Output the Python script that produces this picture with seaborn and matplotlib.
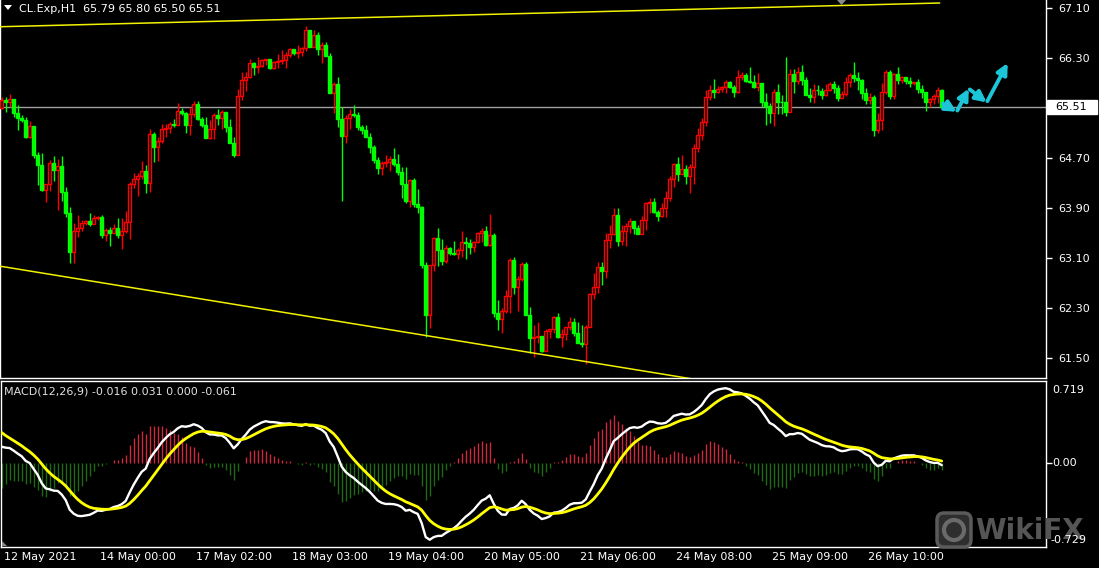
import numpy as np
import seaborn as sns
import matplotlib.pyplot as plt
from matplotlib.patches import Rectangle, FancyBboxPatch, Polygon, Circle

sns.set_style("dark")
plt.rcParams['font.family'] = ['DejaVu Sans']

# ---- data (CL.Exp H1) ----
first_open = 65.50
closes = [65.63, 65.60, 65.65, 65.42, 65.34, 65.31, 65.04, 65.21, 64.75, 64.59,
          64.19, 64.29, 64.62, 64.51, 64.57, 64.16, 63.82, 63.20, 63.53, 63.58,
          63.66, 63.69, 63.65, 63.74, 63.76, 63.47, 63.55, 63.50, 63.58, 63.47,
          63.53, 63.68, 64.29, 64.37, 64.41, 64.49, 64.30, 65.09, 64.88, 64.97,
          65.17, 65.18, 65.25, 65.23, 65.45, 65.42, 65.23, 65.41, 65.57, 65.33,
          65.23, 65.02, 65.17, 65.39, 65.34, 65.44, 65.20, 64.94, 64.75, 65.69,
          65.95, 66.00, 66.22, 66.16, 66.17, 66.27, 66.28, 66.14, 66.24, 66.25,
          66.27, 66.35, 66.45, 66.38, 66.40, 66.46, 66.75, 66.48, 66.67, 66.45,
          66.51, 66.33, 65.74, 65.89, 65.33, 65.05, 65.34, 65.41, 65.39, 65.20,
          65.15, 65.04, 64.88, 64.67, 64.54, 64.62, 64.64, 64.69, 64.61, 64.48,
          64.29, 64.01, 64.35, 63.97, 63.92, 62.99, 62.19, 62.99, 63.42, 63.23,
          63.05, 63.26, 63.18, 63.16, 63.23, 63.36, 63.34, 63.28, 63.36, 63.50,
          63.53, 63.31, 63.47, 62.22, 62.13, 62.25, 62.49, 63.07, 62.64, 62.77,
          63.01, 62.19, 61.82, 61.84, 61.85, 61.61, 61.93, 61.97, 62.16, 61.84,
          61.89, 62.00, 62.08, 61.90, 61.74, 61.73, 62.00, 62.53, 62.64, 62.96,
          62.89, 63.39, 63.49, 63.79, 63.37, 63.53, 63.61, 63.69, 63.58, 63.49,
          63.71, 63.98, 64.00, 63.84, 63.77, 63.90, 64.06, 64.37, 64.61, 64.45,
          64.53, 64.41, 64.56, 64.86, 65.07, 65.28, 65.68, 65.79, 65.76, 65.81,
          65.84, 65.92, 65.84, 65.76, 66.00, 66.03, 65.93, 65.92, 65.84, 65.90,
          65.60, 65.53, 65.42, 65.76, 65.60, 65.59, 65.44, 66.05, 65.93, 66.08,
          65.95, 65.71, 65.68, 65.79, 65.78, 65.71, 65.79, 65.89, 65.82, 65.66,
          65.73, 65.92, 66.03, 65.98, 65.95, 65.74, 65.63, 65.68, 65.15, 65.31,
          65.76, 66.08, 65.69, 66.05, 65.95, 66.00, 65.93, 65.90, 65.92, 65.81,
          65.76, 65.60, 65.65, 65.69, 65.79, 65.51]
highs = [65.68, 65.68, 65.73, 65.65, 65.55, 65.39, 65.36, 65.29, 65.20, 64.80,
         64.78, 64.29, 64.67, 64.73, 64.69, 64.73, 64.24, 63.92, 63.66, 63.79,
         63.71, 63.71, 63.82, 63.79, 63.77, 63.79, 63.58, 63.60, 63.65, 63.74,
         63.74, 63.85, 64.32, 64.46, 64.46, 64.65, 64.59, 65.17, 65.12, 65.04,
         65.25, 65.25, 65.28, 65.33, 65.58, 65.50, 65.44, 65.52, 65.61, 65.61,
         65.36, 65.36, 65.31, 65.42, 65.49, 65.47, 65.42, 65.33, 65.04, 65.81,
         66.08, 66.08, 66.29, 66.24, 66.32, 66.29, 66.27, 66.29, 66.25, 66.37,
         66.43, 66.40, 66.46, 66.43, 66.51, 66.48, 66.81, 66.75, 66.75, 66.72,
         66.56, 66.56, 66.38, 65.92, 66.00, 65.52, 65.39, 65.49, 65.55, 65.44,
         65.23, 65.23, 65.10, 64.91, 64.72, 64.65, 64.75, 64.73, 64.86, 64.77,
         64.56, 64.56, 64.37, 64.38, 64.21, 63.93, 63.04, 62.99, 63.44, 63.58,
         63.41, 63.31, 63.28, 63.37, 63.26, 63.53, 63.44, 63.41, 63.37, 63.52,
         63.58, 63.61, 63.81, 63.50, 62.43, 62.30, 62.59, 63.10, 63.12, 62.81,
         63.04, 63.04, 62.32, 62.03, 62.08, 61.85, 61.97, 61.97, 62.17, 62.22,
         61.97, 62.00, 62.16, 62.14, 62.08, 62.03, 62.03, 62.54, 62.86, 63.04,
         63.04, 63.50, 63.63, 63.90, 63.90, 63.63, 63.66, 63.74, 63.66, 63.63,
         63.77, 64.00, 64.06, 64.06, 63.87, 63.98, 64.17, 64.41, 64.62, 64.72,
         64.75, 64.59, 64.61, 64.93, 65.18, 65.34, 65.79, 65.87, 65.97, 65.85,
         65.85, 65.95, 65.93, 65.87, 66.11, 66.08, 66.06, 66.16, 66.03, 66.06,
         65.90, 65.74, 65.58, 65.81, 65.89, 65.71, 66.32, 66.13, 66.13, 66.16,
         66.19, 66.00, 65.82, 65.89, 65.87, 65.82, 65.89, 65.92, 65.93, 65.87,
         65.77, 66.00, 66.06, 66.24, 66.08, 65.97, 65.82, 65.74, 65.71, 65.42,
         65.90, 66.11, 66.11, 66.06, 66.16, 66.01, 66.00, 66.00, 65.92, 65.97,
         65.87, 65.76, 65.66, 65.73, 65.84, 65.80]
lows = [65.49, 65.44, 65.52, 65.36, 65.15, 65.28, 65.02, 65.02, 64.70, 64.27,
        64.17, 64.00, 64.17, 64.33, 63.87, 64.01, 63.76, 63.02, 63.02, 63.44,
        63.53, 63.63, 63.61, 63.65, 63.71, 63.42, 63.37, 63.29, 63.50, 63.42,
        63.25, 63.50, 63.41, 64.22, 64.09, 64.37, 64.14, 64.16, 64.64, 64.65,
        64.94, 65.04, 65.10, 65.20, 65.29, 65.39, 65.10, 65.07, 65.36, 65.31,
        65.20, 65.02, 65.01, 65.01, 65.23, 65.17, 65.12, 64.94, 64.72, 64.75,
        65.63, 65.77, 65.98, 66.03, 66.06, 66.16, 66.19, 66.13, 66.13, 66.14,
        66.21, 66.14, 66.32, 66.35, 66.30, 66.33, 66.41, 66.48, 66.48, 66.35,
        66.22, 66.33, 65.74, 65.42, 65.20, 64.01, 64.94, 65.17, 65.36, 65.15,
        65.09, 65.04, 64.78, 64.62, 64.45, 64.43, 64.56, 64.49, 64.57, 64.43,
        64.06, 63.98, 63.92, 63.92, 63.82, 62.94, 61.84, 61.98, 62.89, 62.97,
        62.99, 63.02, 63.15, 63.15, 63.09, 63.12, 63.09, 63.17, 63.20, 63.34,
        63.36, 63.29, 63.29, 62.16, 61.95, 61.90, 62.22, 62.22, 62.53, 62.25,
        62.73, 62.19, 61.58, 61.52, 61.74, 61.60, 61.71, 61.82, 61.90, 61.82,
        61.68, 61.79, 61.95, 61.85, 61.74, 61.68, 61.41, 62.00, 62.45, 62.54,
        62.67, 62.78, 63.26, 63.47, 63.29, 63.31, 63.29, 63.50, 63.49, 63.49,
        63.49, 63.55, 63.82, 63.82, 63.69, 63.76, 63.76, 64.01, 64.24, 64.33,
        64.45, 64.29, 64.14, 64.29, 64.80, 64.99, 65.21, 65.63, 65.66, 65.74,
        65.76, 65.74, 65.82, 65.68, 65.74, 65.95, 65.92, 65.90, 65.82, 65.77,
        65.52, 65.23, 65.26, 65.21, 65.41, 65.41, 65.37, 65.44, 65.74, 65.89,
        65.87, 65.71, 65.60, 65.58, 65.71, 65.65, 65.69, 65.77, 65.74, 65.61,
        65.66, 65.69, 65.84, 65.92, 65.79, 65.65, 65.57, 65.57, 65.05, 65.10,
        65.15, 65.73, 65.65, 65.65, 65.89, 65.90, 65.89, 65.84, 65.87, 65.74,
        65.66, 65.45, 65.52, 65.57, 65.58, 65.50]

date_ticks = [0, 24, 48, 72, 96, 120, 144, 168, 192, 216]
date_labels = ['12 May 2021', '14 May 00:00', '17 May 02:00', '18 May 03:00',
               '19 May 04:00', '20 May 05:00', '21 May 06:00', '24 May 08:00',
               '25 May 09:00', '26 May 10:00']
price_ticks = [61.50, 62.30, 63.10, 63.90, 64.70, 66.30, 67.10]
last_price = 65.51

# trend lines and the cyan forecast path
upper_line_bars, upper_line_prices = [-0.5, 234.5], [66.80, 67.18]
lower_line_bars, lower_line_prices = [-0.5, 200], [62.97, 60.88]
forecast_bars = [235, 238.75, 241.75, 246.25, 251.5]
forecast_prices = [65.58, 65.44, 65.81, 65.59, 66.22]

# MACD(12,26,9) state carried in from before the window
ema_fast_start, ema_slow_start, signal_start = 65.55, 65.40, 0.30
hist_scale = 1.7

# ---- derived ----
closes = np.array(closes)
highs = np.array(highs)
lows = np.array(lows)
bars = np.arange(len(closes))
opens = np.r_[first_open, closes[:-1]]
highs = np.maximum(highs, np.maximum(opens, closes))
lows = np.minimum(lows, np.minimum(opens, closes))
bull = closes > opens

ef, es, sg = ema_fast_start, ema_slow_start, signal_start
macd, signal = [], []
for c in closes:
    ef += 2 / 13 * (c - ef)
    es += 2 / 27 * (c - es)
    m = ef - es
    sg += 2 / 10 * (m - sg)
    macd.append(m)
    signal.append(sg)
macd = np.array(macd)
signal = np.array(signal)
hist = hist_scale * (macd - signal)

# ---- figure ----
W, H = 1099, 568
fig = plt.figure(figsize=(W / 100, H / 100), dpi=100, facecolor='black')


def px_axes(x0, y0, x1, y1):
    return fig.add_axes([x0 / W, 1 - y1 / H, (x1 - x0) / W, (y1 - y0) / H])


def fx(x):
    return x / W


def fy(y):
    return 1 - y / H


def inch(x, y):
    # pixel (from top-left) -> inches for fig.dpi_scale_trans
    return x / 100, (H - y) / 100


FS = 8

ax = px_axes(0, 0, 1046, 378)
axm = px_axes(1, 381, 1046, 547)

for a in (ax, axm):
    a.set_facecolor('black')
    a.grid(False)
    for s in a.spines.values():
        s.set_color('white')
        s.set_linewidth(1)
ax.spines['top'].set_visible(False)

# candles
ax.vlines(bars, lows, highs, colors=np.where(bull, '#ff0000', '#00ff00'), lw=1, zorder=2)
ax.bar(bars[bull], closes[bull] - opens[bull], bottom=opens[bull], width=0.72,
       facecolor='black', edgecolor='#ff0000', lw=1, zorder=3)
ax.bar(bars[~bull], opens[~bull] - closes[~bull], bottom=closes[~bull], width=0.72,
       facecolor='#00ff00', edgecolor='#00ff00', lw=1, zorder=3)

ax.axhline(last_price, color='#a0a0a0', lw=1, zorder=1)
ax.plot(upper_line_bars, upper_line_prices, color='#f2f200', lw=1.1, zorder=4)
ax.plot(lower_line_bars, lower_line_prices, color='#f2f200', lw=1.1, zorder=4)

for b0, p0, b1, p1 in zip(forecast_bars[:-1], forecast_prices[:-1],
                          forecast_bars[1:], forecast_prices[1:]):
    ax.annotate('', xy=(b1, p1), xytext=(b0, p0), annotation_clip=False,
                arrowprops=dict(arrowstyle='-|>', color='#1cc6d8', lw=2.8,
                                mutation_scale=16, shrinkA=1, shrinkB=0), zorder=6)

ax.set_xlim(-1.7 / 4, (1046 - 1.7) / 4)
ax.set_ylim(67.228 - 0.016 * 378, 67.228)
ax.set_xticks([])
ax.yaxis.tick_right()
ax.set_yticks(price_ticks)
ax.set_yticklabels([f'{p:.2f}' for p in price_ticks])
ax.tick_params(axis='y', colors='white', labelcolor='white', length=4, width=1,
               direction='out', pad=5, labelsize=FS)

# current price box
ax.add_patch(Rectangle((1.001, last_price - 0.11), 50 / 1046, 0.22, facecolor='white',
                       edgecolor='white', transform=ax.get_yaxis_transform(),
                       clip_on=False, zorder=7))
ax.text(1055 / 1046, last_price, f'{last_price:.2f}', transform=ax.get_yaxis_transform(),
        color='black', fontsize=FS, va='center', ha='left', zorder=8)

# MACD window
axm.vlines(bars, 0, hist, colors=np.where(hist >= 0, '#d0283f', '#1d6a12'), lw=1, zorder=2)
sns.lineplot(x=bars, y=signal, ax=axm, color='#ffff00', lw=2, zorder=4)
sns.lineplot(x=bars, y=macd, ax=axm, color='white', lw=1.7, zorder=3)
axm.set_xlim((1 - 1.7) / 4, (1046 - 1.7) / 4)
axm.set_ylim(-0.729, 0.719)
axm.set_xlabel('')
axm.set_ylabel('')
axm.set_yticks([0.0])
axm.set_yticklabels([])
axm.yaxis.tick_right()
axm.tick_params(axis='y', colors='white', length=4, width=1, direction='out')
axm.set_xticks(date_ticks)
axm.set_xticklabels([])
axm.tick_params(axis='x', colors='white', length=4, width=1, direction='out')

for b, lab in zip(date_ticks, date_labels):
    axm.text(b + 0.6, -10 / 166, lab, transform=axm.get_xaxis_transform(),
             color='white', fontsize=FS, ha='left', va='center')

# watermark (under the scale labels)
fig.patches.append(FancyBboxPatch(inch(938, 546), 0.32, 0.32,
                                  boxstyle='round,pad=0.01,rounding_size=0.07',
                                  facecolor='#2e2e2e', edgecolor='#5a5a5a', lw=2.5,
                                  transform=fig.dpi_scale_trans, figure=fig, zorder=1))
fig.patches.append(Circle(inch(954, 530), 0.1, facecolor='none', edgecolor='#6a6a6a',
                          lw=3, transform=fig.dpi_scale_trans, figure=fig, zorder=2))
fig.text(fx(975), fy(531), 'WikiFX', color='#555555', fontsize=20, fontweight='bold',
         va='center', ha='left', zorder=1)

fig.text(fx(1052), fy(390), '0.719', color='white', fontsize=FS, va='center', zorder=5)
fig.text(fx(1052), fy(463), '0.00', color='white', fontsize=FS, va='center', zorder=5)
fig.text(fx(1050), fy(540), '-0.729', color='white', fontsize=FS, va='center', zorder=5)

# headers and small markers
fig.patches.append(Polygon([(fx(4), fy(5)), (fx(12), fy(5)), (fx(8), fy(10))],
                           closed=True, facecolor='white', edgecolor='none',
                           transform=fig.transFigure, figure=fig))
fig.patches.append(Polygon([(fx(837), fy(0)), (fx(846), fy(0)), (fx(841.5), fy(5))],
                           closed=True, facecolor='#8a8a8a', edgecolor='none',
                           transform=fig.transFigure, figure=fig))
fig.patches.append(Polygon([(fx(2), fy(541)), (fx(2), fy(546)), (fx(7), fy(546))],
                           closed=True, facecolor='#8a8a8a', edgecolor='none',
                           transform=fig.transFigure, figure=fig))
fig.text(fx(19), fy(9), 'CL.Exp,H1  65.79 65.80 65.50 65.51', color='white',
         fontsize=FS, va='center', ha='left')
fig.text(fx(4), fy(391), 'MACD(12,26,9) -0.016 0.031 0.000 -0.061', color='#e0e0e0',
         fontsize=FS, va='center', ha='left')

fig.savefig('out.png', dpi=100, facecolor='black')
